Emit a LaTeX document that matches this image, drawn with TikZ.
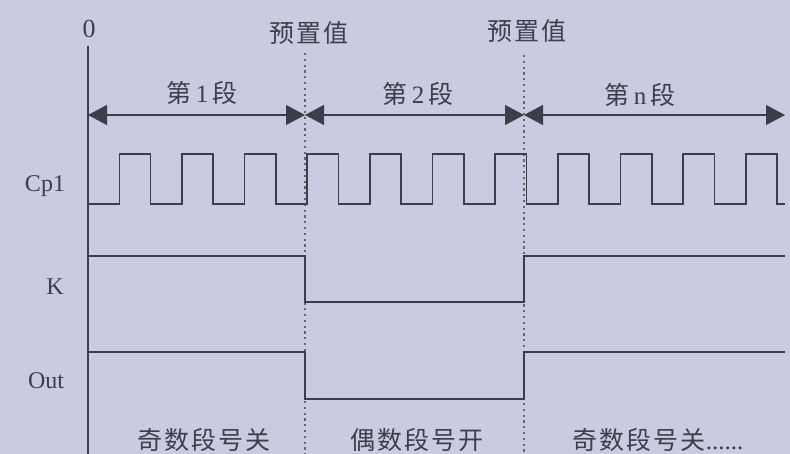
\documentclass[tikz,border=0pt]{standalone}
\usepackage{fontspec}
\setmainfont{Liberation Serif}
\newfontfamily\cjk[LetterSpace=8]{Noto Sans CJK SC}
\usetikzlibrary{arrows.meta}
\definecolor{bgpaper}{RGB}{202,202,226}
\definecolor{ink}{RGB}{62,62,74}

\begin{document}
\begin{tikzpicture}[x=1pt,y=-1pt]
\tikzstyle{sig} = [text=ink, font=\fontsize{24}{28}\selectfont, inner sep=0pt]
\tikzstyle{cn} = [text=ink, font=\fontsize{25}{29}\selectfont\cjk, inner sep=0pt]
\tikzstyle{wave} = [draw=ink, line width=1.6pt]
\tikzstyle{preset} = [draw=ink!80, line width=2.2pt, dash pattern=on 2.2pt off 3.6pt]
\tikzstyle{segarrow} = [draw=ink, line width=1.3pt,
{Triangle[length=19pt,width=20pt]}-{Triangle[length=19pt,width=20pt]}]

\fill[bgpaper] (0,0) rectangle (790,454);
\useasboundingbox (0,0) rectangle (790,454);

% time axis
\node[sig, font=\fontsize{26}{30}\selectfont] (zero) at (89,29) {0};
\coordinate (axistop) at (88,46);
\coordinate (axisend) at (88,454);
\draw[wave] (axistop) -- (axisend);

% preset marks
\node[cn] (pre1) at (309,33) {预置值};
\node[cn] (pre2) at (527,31) {预置值};
\coordinate (cut1) at (305,454);
\coordinate (cut2) at (524,454);
\draw[preset] (cut1 |- 0,53) -- (cut1);
\draw[preset] (cut2 |- 0,55) -- (cut2);

% segments
\coordinate (a0) at (88,115);
\coordinate (a1) at (305,115);
\coordinate (a2) at (524,115);
\coordinate (a3) at (785,115);
\draw[segarrow] (a0) -- (a1);
\draw[segarrow] (a1) -- (a2);
\draw[segarrow] (a2) -- (a3);
\node[cn] (seg1) at (202,93) {第{\rmfamily\,1\,}段};
\node[cn] (seg2) at (418,94) {第{\rmfamily\,2\,}段};
\node[cn] (seg3) at (640,95) {第{\rmfamily\,n\,}段};

% signal names
\node[sig] (cp) at (45,186) {Cp1};
\node[sig] (k) at (55,287) {K};
\node[sig] (out) at (46,381) {Out};

% waveforms
\draw[wave] (88,204) \foreach \i in {1,...,11}
{-- ++(31.32,0) -- ++(0,-50) -- ++(31.32,0) -- ++(0,50)} -- (785,204);
\draw[wave] (88,256) -- (305,256) -- (305,302) -- (524,302) -- (524,256) -- (785,256);
\draw[wave] (88,352) -- (305,352) -- (305,399) -- (524,399) -- (524,352) -- (785,352);

% states
\node[cn] (odd1) at (204,440) {奇数段号关};
\node[cn] (even) at (417,440) {偶数段号开};
\node[cn] (odd2) at (658,440) {奇数段号关{\rmfamily......}};
\end{tikzpicture}
\end{document}
